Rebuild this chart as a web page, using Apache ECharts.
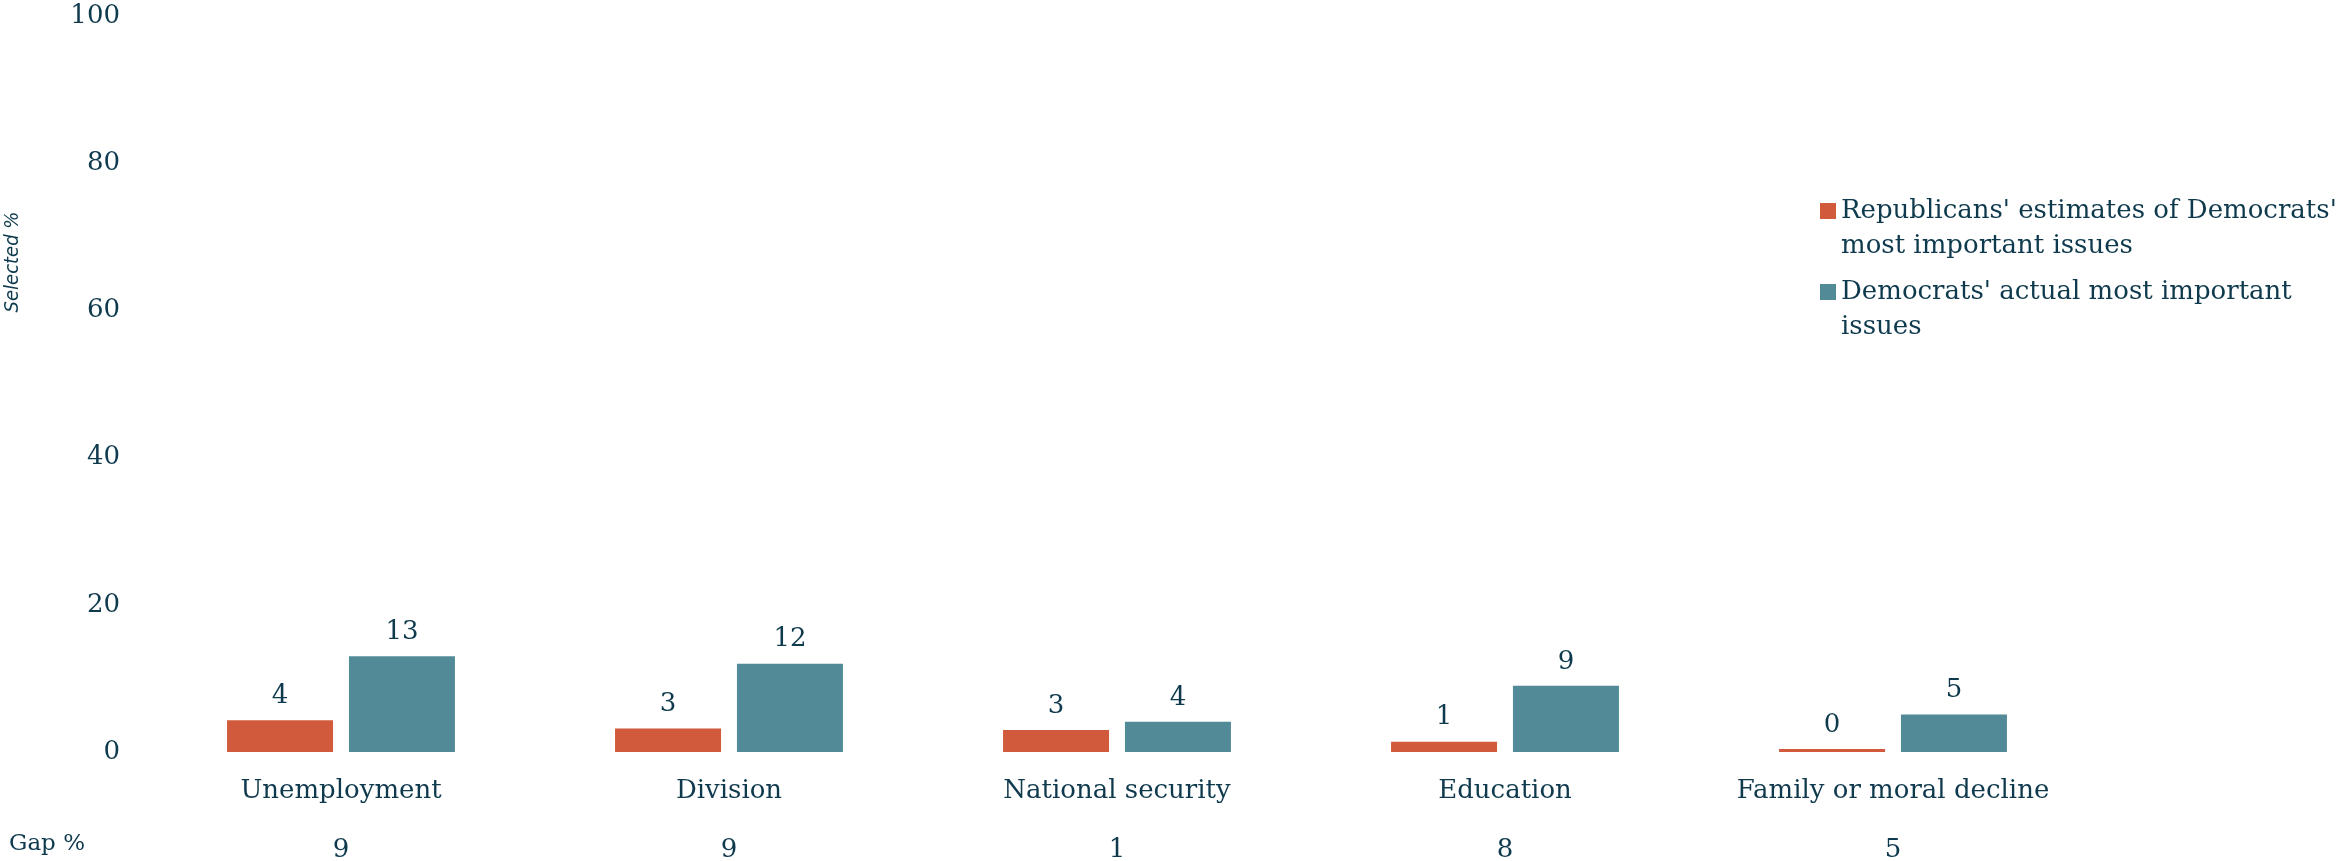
<!DOCTYPE html>
<html>
<head>
<meta charset="utf-8">
<script src="https://cdn.jsdelivr.net/npm/echarts@6/dist/echarts.min.js"></script>
<style>
  html, body { margin: 0; padding: 0; background: #fff; }
  #chart { width: 2339px; height: 861px; }
</style>
</head>
<body>
<div id="chart"></div>
<script>
var categories = ["Unemployment", "Division", "National security", "Education", "Family or moral decline"];
var repEstimates = [4.3, 3.2, 3.0, 1.4, 0.4];
var demActual = [13.0, 12.0, 4.1, 9.0, 5.1];
var gapValues = [9, 9, 1, 8, 5];
var yTicks = [0, 20, 40, 60, 80, 100];
var seriesNames = [
    "Republicans' estimates of Democrats'\nmost important issues",
    "Democrats' actual most important\nissues"
];

var TEXT = "#0f3a4e";
var FONT = "DejaVu Serif";
// square at the top of a tall icon box, so it lines up with the first text line
var LEGEND_ICON = "path://M0,0L16,0L16,16L0,16Z M0,52L0,52";

var chart = echarts.init(document.getElementById("chart"));

function valueLabel(p) {
    return Math.round(p.value);
}

chart.setOption({
    animation: false,
    grid: { left: 147, right: 252, top: 16, bottom: 109, outerBoundsMode: "none" },
    legend: {
        orient: "vertical",
        left: 1815,
        top: 189,
        itemWidth: 16,
        itemHeight: 52,
        itemGap: 11,
        icon: LEGEND_ICON,
        selectedMode: false,
        textStyle: { color: TEXT, fontFamily: FONT, fontSize: 26, lineHeight: 35 },
        data: seriesNames
    },
    xAxis: [{
        type: "category",
        data: categories,
        axisLine: { show: false },
        axisTick: { show: false },
        axisLabel: { interval: 0, color: TEXT, fontFamily: FONT, fontSize: 26, margin: 26 }
    }, {
        type: "category",
        data: categories,
        position: "bottom",
        offset: 92,
        name: "Gap %",
        nameLocation: "start",
        nameGap: 62,
        nameTextStyle: { color: TEXT, fontFamily: FONT, fontSize: 23, padding: [4, 0, 0, 0] },
        axisLine: { show: false },
        axisTick: { show: false },
        axisLabel: {
            interval: 0, color: TEXT, fontFamily: FONT, fontSize: 26, margin: 6,
            verticalAlign: "middle",
            formatter: function (v, i) { return String(gapValues[i]); }
        }
    }],
    yAxis: {
        type: "value",
        min: yTicks[0],
        max: yTicks[yTicks.length - 1],
        interval: yTicks[1] - yTicks[0],
        splitLine: { show: false },
        axisLine: { show: false },
        axisTick: { show: false },
        axisLabel: { color: TEXT, fontFamily: FONT, fontSize: 26, margin: 27 }
    },
    graphic: [{
        type: "text",
        x: 13,
        y: 262,
        rotation: Math.PI / 2,
        style: {
            text: "Selected %",
            fill: TEXT,
            font: "italic 20px 'DejaVu Sans Condensed', 'DejaVu Sans', sans-serif",
            align: "center",
            verticalAlign: "middle"
        }
    }],
    series: [{
        name: seriesNames[0],
        type: "bar",
        data: repEstimates,
        barWidth: 106,
        barGap: "15%",
        itemStyle: { color: "#d05a3b" },
        label: {
            show: true, position: "top", distance: 11,
            color: TEXT, fontFamily: FONT, fontSize: 26,
            formatter: valueLabel
        }
    }, {
        name: seriesNames[1],
        type: "bar",
        data: demActual,
        barWidth: 106,
        barGap: "15%",
        itemStyle: { color: "#528a97" },
        label: {
            show: true, position: "top", distance: 11,
            color: TEXT, fontFamily: FONT, fontSize: 26,
            formatter: valueLabel
        }
    }]
});
</script>
</body>
</html>
